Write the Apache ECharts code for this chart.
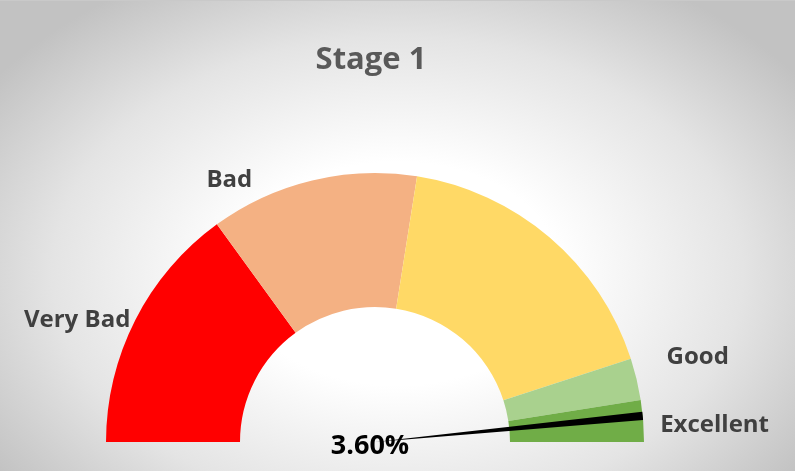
<!DOCTYPE html>
<html>
<head>
<meta charset="utf-8">
<script src="https://cdn.jsdelivr.net/npm/echarts@6/dist/echarts.min.js"></script>
<style>
  html, body { margin: 0; padding: 0; background: #ffffff; }
  #chart {
    width: 795px; height: 471px;
    background: radial-gradient(ellipse 62% 72% at 50% 58%, #ffffff 0%, #ffffff 33%, #e4e4e4 70%, #c2c2c2 100%);
    border-top: 1px solid #c9c9c9;
    box-sizing: border-box;
  }
</style>
</head>
<body>
<div id="chart"></div>
<script>
// ---- data ----
const titleText = 'Stage 1';
const bandNames = ['Very Bad', 'Bad', '', 'Good', 'Excellent'];
const bandValues = [30, 25, 35, 5, 5];          // share of the half dial (sum 100)
const bandColors = ['#FF0000', '#F4B183', '#FFD966', '#A9D18E', '#70AD47'];
const needleValue = 3.6;                          // percent shown
const needleWidth = 1;                            // width of needle slice
const hiddenHalf = 100;                           // invisible lower half

// ---- styles ----
const cx = 375, cy = 441, rOuter = 269, rInner = 135;
const labelFont = { fontFamily: 'Open Sans', fontWeight: 'bold', fontSize: 24, color: '#404040' };
// per-label tweaks: [length, length2, dx, dy]
const labelTweaks = [
  [0, 0, 0, 0],
  [0, 55, 0, 0],
  [0, 0, 0, 0],
  [0, 25, 0, -22],
  [0, 12, 0, 4]
];

const bandData = bandValues.map((v, i) => ({
  name: bandNames[i],
  value: v,
  itemStyle: { color: bandColors[i] },
  label: { show: bandNames[i] !== '' },
  labelLine: { show: false, length: labelTweaks[i][0], length2: labelTweaks[i][1] }
}));
bandData.push({ name: 'hidden', value: hiddenHalf, itemStyle: { color: 'transparent' }, label: { show: false }, emphasis: { disabled: true } });

const needleData = [
  { name: 'pre', value: hiddenHalf - needleValue, itemStyle: { color: 'transparent' } },
  { name: 'needle', value: needleWidth, itemStyle: { color: '#000000' },
    label: { show: true, position: 'center', formatter: needleValue.toFixed(2) + '%',
             fontFamily: 'Open Sans', fontWeight: 'bold', fontSize: 27, color: '#000000' } },
  { name: 'post', value: needleValue - needleWidth, itemStyle: { color: 'transparent' } },
  { name: 'hidden', value: hiddenHalf, itemStyle: { color: 'transparent' } }
];

const chart = echarts.init(document.getElementById('chart'), null, { renderer: 'canvas' });
chart.setOption({
  backgroundColor: 'transparent',
  animation: false,
  title: {
    text: titleText,
    left: 366,
    top: 39,
    textAlign: 'center',
    textStyle: { fontFamily: 'Open Sans', fontWeight: 'bold', fontSize: 31, color: '#595959' }
  },
  series: [
    {
      type: 'pie',
      center: [cx, cy],
      radius: [rInner, rOuter],
      startAngle: 180,
      clockwise: true,
      avoidLabelOverlap: false,
      silent: true,
      label: Object.assign({ position: 'outside', alignTo: 'none', distanceToLabelLine: 5, formatter: '{b}' }, labelFont),
      labelLayout: function (p) {
        const t = labelTweaks[p.dataIndex] || [0, 0, 0, 0];
        return { dx: t[2], dy: t[3] };
      },
      data: bandData
    },
    {
      type: 'pie',
      center: [cx, cy],
      radius: [0, rOuter],
      startAngle: 180,
      clockwise: true,
      silent: true,
      z: 3,
      label: { show: false },
      labelLine: { show: false },
      labelLayout: { dx: -5, dy: 4 },
      data: needleData
    }
  ]
});
</script>
</body>
</html>
